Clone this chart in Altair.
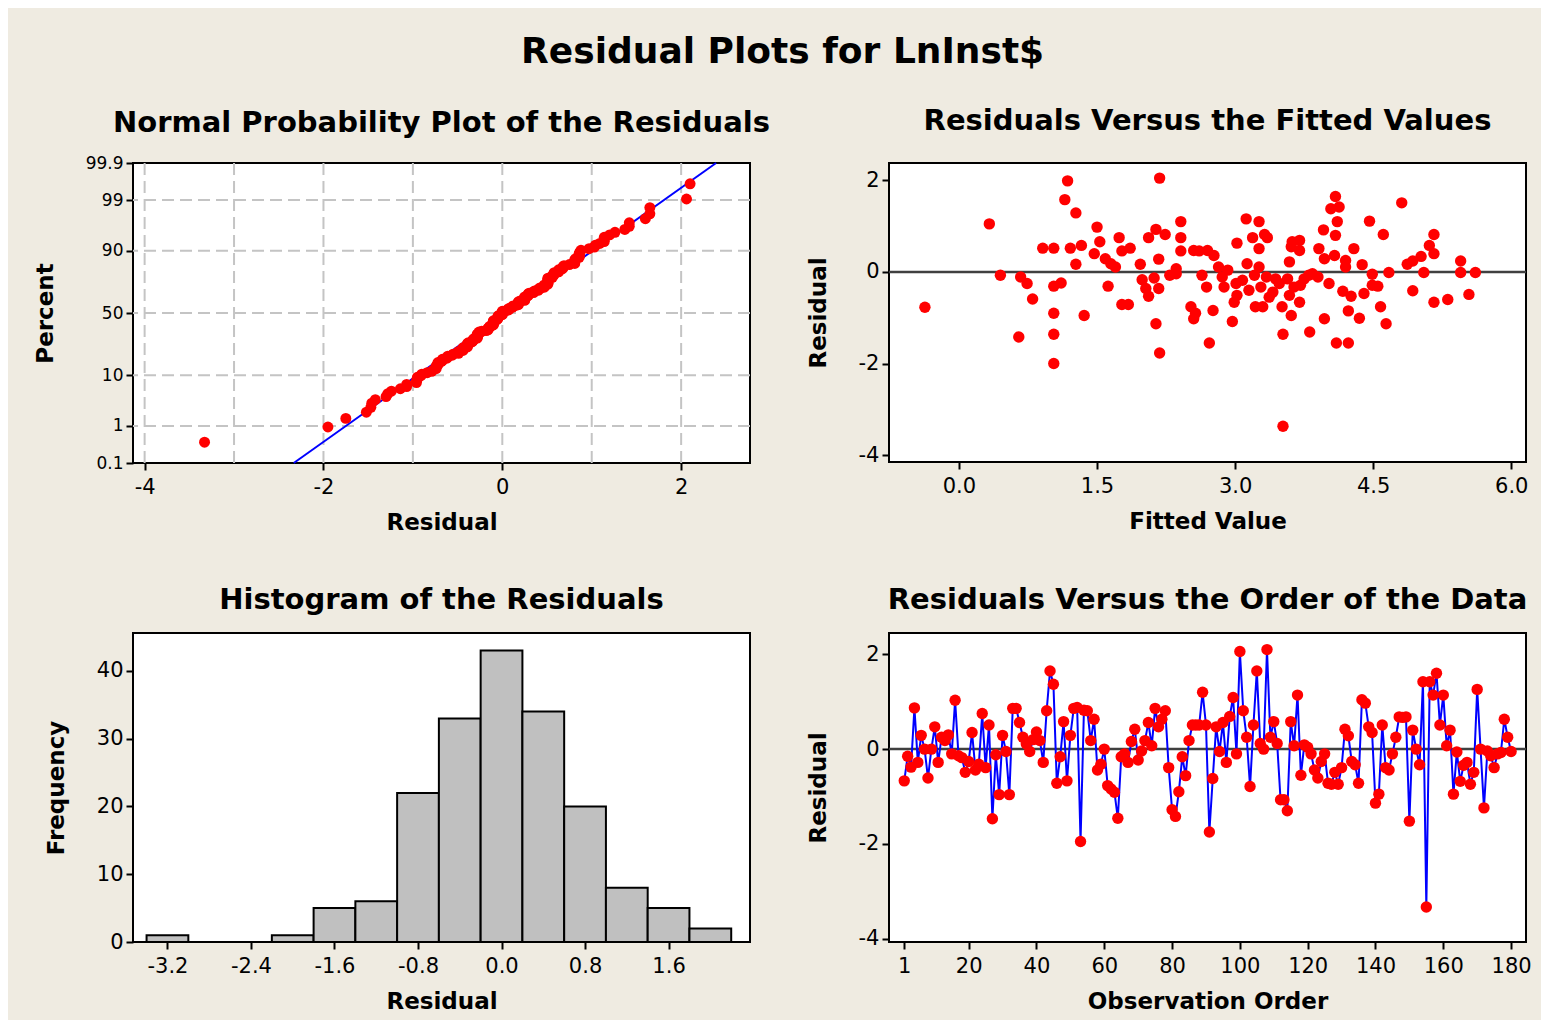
import altair as alt
import pandas as pd
from statistics import NormalDist, mean, stdev

FONT = "DejaVu Sans"
BG = "#EFEBE1"

# ---- data -------------------------------------------------------------------
residuals = [
    -0.67, -0.15, -0.38, 0.87, -0.28, 0.29, 0.00, -0.61, 0.00, 0.47,
    -0.28, 0.25, 0.18, 0.30, -0.10, 1.03, -0.14, -0.18, -0.49, -0.26,
    0.35, -0.44, -0.32, 0.75, -0.39, 0.51, -1.47, -0.12, -0.96, 0.29,
    -0.05, -0.96, 0.86, 0.86, 0.56, 0.25, 0.11, -0.05, 0.20, 0.36,
    0.18, -0.28, 0.81, 1.65, 1.37, -0.72, -0.16, 0.58, -0.67, 0.29,
    0.86, 0.88, -1.95, 0.82, 0.81, 0.18, 0.63, -0.44, -0.32, 0.00,
    -0.77, -0.84, -0.91, -1.46, -0.16, -0.10, -0.28, 0.16, 0.42, -0.23,
    -0.04, 0.18, 0.56, 0.07, 0.86, 0.47, 0.63, 0.81, -0.39, -1.28,
    -1.42, -0.90, -0.16, -0.56, 0.18, 0.51, 0.51, 0.51, 1.20, 0.51,
    -1.75, -0.62, 0.47, -0.05, 0.56, -0.28, 0.69, 1.09, -0.10, 2.06,
    0.81, 0.25, -0.79, 0.51, 1.65, 0.12, 0.00, 2.10, 0.25, 0.58,
    0.12, -1.07, -1.07, -1.30, 0.58, 0.07, 1.14, -0.55, 0.09, 0.04,
    -0.10, -0.44, -0.61, -0.26, -0.10, -0.72, -0.74, -0.49, -0.74, -0.39,
    0.42, 0.28, -0.26, -0.33, -0.72, 1.04, 0.97, 0.47, 0.35, -1.14,
    -0.95, 0.51, -0.39, -0.44, -0.10, 0.25, 0.68, 0.67, 0.68, -1.52,
    0.40, 0.00, -0.33, 1.42, -3.33, 1.42, 1.14, 1.60, 0.51, 1.14,
    0.07, 0.40, -0.95, -0.06, -0.68, -0.34, -0.28, -0.74, -0.49, 1.26,
    0.00, -1.24, -0.04, -0.14, -0.39, -0.10, -0.07, 0.63, 0.25, -0.05,
]

fitted_value = [
    -0.37, 0.33, 0.45, 0.67, 0.74, 0.80, 0.65, 0.91,
    1.03, 1.03, 1.11, 1.03, 1.03, 1.03, 1.18, 1.15, 1.27, 1.21, 1.33, 1.27,
    1.36, 1.50, 1.53, 1.47, 1.59, 1.65, 1.70, 1.62, 1.74, 1.77, 1.86, 1.77,
    1.84, 1.97, 1.99, 2.03, 2.06, 2.12, 2.17, 2.06, 2.14, 2.24, 2.17, 2.18,
    2.14, 2.18, 2.29, 2.36, 2.36, 2.41, 2.41, 2.41, 2.55, 2.61, 2.52, 2.57,
    2.55, 2.64, 2.69,
    2.70, 2.72, 2.76, 2.77, 2.82, 2.86, 2.88, 2.92, 2.97, 2.99, 3.01, 3.02,
    3.02, 3.08, 3.12, 3.13, 3.19, 3.15, 3.21, 3.22, 3.26, 3.26, 3.26, 3.28,
    3.30, 3.32, 3.34, 3.35, 3.37, 3.41, 3.44, 3.48, 3.51, 3.52, 3.52, 3.57,
    3.59, 3.59, 3.61, 3.61, 3.62, 3.64, 3.70, 3.70, 3.70, 3.71, 3.75, 3.80,
    3.81, 3.84, 3.90, 3.91, 3.97, 3.97, 3.96, 4.02, 4.04, 4.09, 4.13, 4.11,
    4.09, 4.08, 4.10, 4.23, 4.17, 4.20, 4.20, 4.23, 4.26, 4.29,
    4.35, 4.38, 4.40,
    4.81, 4.46, 4.61, 4.49, 4.49, 4.55, 4.58, 4.64, 4.67, 4.87, 4.93, 5.02,
    5.05, 4.93, 5.11, 5.16, 5.16, 5.16, 5.31, 5.45, 5.45, 5.61, 5.54,
]
fitted_resid = [
    -0.77, 1.05, -0.07, -0.11, -0.25, -0.59, -1.42, 0.52,
    0.52, -0.31, -0.24, -0.90, -1.36, -2.00, 1.99, 1.58, 1.29, 0.52, 0.58, 0.17,
    -0.95, 0.98, 0.66, 0.40, 0.29, 0.18, 0.11, -0.31, 0.75, 0.46, 0.52, -0.71,
    -0.71, 0.17, -0.17, -0.36, -0.53, -0.13, -0.36, 0.75, 0.93, 0.82, 0.28, 2.05,
    -1.13, -1.77, -0.07, -0.04, 0.07, 1.10, 0.75, 0.46, 0.47, 0.46, -0.76, -0.90,
    -1.02, -0.07, -0.33,
    0.47, -1.55, -0.84, 0.36, 0.11, -0.11, -0.33, 0.04, -1.08, -0.66, -0.25, 0.63,
    -0.51, -0.18, 1.16, 0.18, 0.75, -0.40, -0.07, -0.76, 1.10, 0.51, 0.11, -0.33,
    -0.76, 0.82, -0.11, 0.75, -0.55, -0.44, -0.15, -0.25, -0.76, -1.36, -3.37, -0.15,
    -0.51, 0.22, -0.95, 0.55, 0.66, -0.33, 0.69, 0.47, -0.66, -0.29, -0.15, -0.07,
    -1.31, -0.04, -0.11, 0.51, -1.02, 0.29, 0.92, -0.25, 1.38, 1.65, 1.42, 1.10,
    0.80, 0.36, -1.55, -1.55, -0.42, 0.25, 0.11, -0.85, -0.53, 0.51,
    -1.01, 0.16, -0.47,
    1.51, 1.11, 0.82, -0.05, -0.29, -0.31, -0.76, -1.13, -0.01, 0.17, 0.24, 0.34,
    -0.01, -0.41, 0.58, 0.82, 0.40, -0.66, -0.60, 0.24, -0.01, -0.01, -0.49,
]

hist_center = [-3.2, -2.8, -2.4, -2.0, -1.6, -1.2, -0.8, -0.4, 0.0, 0.4, 0.8, 1.2, 1.6, 2.0]
hist_count = [1, 0, 0, 1, 5, 6, 22, 33, 43, 34, 20, 8, 5, 2]

pct_ticks = [0.1, 1, 10, 50, 90, 99, 99.9]
pct_text = ["0.1", "1", "10", "50", "90", "99", "99.9"]
pct_grid = [1, 10, 50, 90, 99]
npp_x_grid = [-4, -3, -2, -1, 0, 1, 2]
npp_x_ticks = [-4, -2, 0, 2]
fit_x_ticks = [0.0, 1.5, 3.0, 4.5, 6.0]
resid_ticks = [-4, -2, 0, 2]
hist_x_ticks = [-3.2, -2.4, -1.6, -0.8, 0.0, 0.8, 1.6]
hist_y_ticks = [0, 10, 20, 30, 40]
order_ticks = [1, 20, 40, 60, 80, 100, 120, 140, 160, 180]

# ---- derived tables ---------------------------------------------------------
nd = NormalDist()
n = len(residuals)
npp_df = pd.DataFrame({
    "resid": sorted(residuals),
    "z": [nd.inv_cdf((i + 0.7) / (n + 0.4)) for i in range(n)],
})
z_lo, z_hi = nd.inv_cdf(0.001), nd.inv_cdf(0.999)
mu, sd = mean(residuals), stdev(residuals)
fitline_df = pd.DataFrame({"resid": [mu + sd * z_lo, mu + sd * z_hi], "z": [z_lo, z_hi]})
pct_z = [round(nd.inv_cdf(p / 100.0), 6) for p in pct_ticks]
gridx_df = pd.DataFrame({"gx": npp_x_grid})
gridy_df = pd.DataFrame({"gz": [nd.inv_cdf(p / 100.0) for p in pct_grid]})

fit_df = pd.DataFrame({"fitted": fitted_value, "resid": fitted_resid})
hist_df = pd.DataFrame({
    "lo": [c - 0.2 for c in hist_center],
    "hi": [c + 0.2 for c in hist_center],
    "count": hist_count,
})
order_df = pd.DataFrame({"obs": list(range(1, n + 1)), "resid": residuals})
zero_df = pd.DataFrame({"y0": [0]})

MINUS = "replace(datum.label, '\u2212', '-')"
pct_expr = " : ".join(
    f"abs(datum.value - ({z})) < 0.001 ? '{t}'" for z, t in zip(pct_z, pct_text)
) + " : ''"


def ax(title, values, label_size=21, fmt=None, expr=MINUS, title_pad=14, label_pad=6):
    kw = dict(
        title=title, values=values,
        labelFont=FONT, labelFontSize=label_size, labelColor="black",
        titleFont=FONT, titleFontSize=23, titleFontWeight="bold", titleColor="black",
        tickColor="black", tickSize=7, tickWidth=2, domain=False, grid=False,
        labelPadding=label_pad, titlePadding=title_pad,
        labelFlush=False, labelOverlap=False,
    )
    if fmt:
        kw["format"] = fmt
    if expr:
        kw["labelExpr"] = expr
    return alt.Axis(**kw)


def sub_title(text, offset):
    return alt.TitleParams(text=text, font=FONT, fontSize=29, fontWeight="bold",
                           color="black", anchor="middle", offset=offset, frame="group")


RED = "#FF0000"
BLUE = "#0000FF"

# ---- top-left: normal probability plot --------------------------------------
tl_xscale = alt.Scale(domain=[-4.13, 2.77], nice=False, zero=False)
tl_yscale = alt.Scale(domain=[z_lo, z_hi], nice=False, zero=False)
tl_xaxis = ax("Residual", npp_x_ticks)
tl_yaxis = ax("Percent", pct_z, label_size=17, expr=pct_expr, title_pad=28, label_pad=3)
tl_x = alt.X("resid:Q", scale=tl_xscale, axis=tl_xaxis)
tl_y = alt.Y("z:Q", scale=tl_yscale, axis=tl_yaxis)

tl_gridx = alt.Chart(gridx_df).mark_rule(color="#C4C4C4", strokeWidth=2, strokeDash=[12, 6]).encode(
    x=alt.X("gx:Q", scale=tl_xscale, axis=tl_xaxis))
tl_gridy = alt.Chart(gridy_df).mark_rule(color="#C4C4C4", strokeWidth=2, strokeDash=[12, 6]).encode(
    y=alt.Y("gz:Q", scale=tl_yscale, axis=tl_yaxis))
tl_line = alt.Chart(fitline_df).mark_line(color=BLUE, strokeWidth=2).encode(x=tl_x, y=tl_y)
tl_pts = alt.Chart(npp_df).mark_circle(color=RED, size=120, opacity=1).encode(x=tl_x, y=tl_y)

tl = alt.layer(tl_gridx, tl_gridy, tl_line, tl_pts).properties(
    width=617, height=300, title=sub_title("Normal Probability Plot of the Residuals", 16))

# ---- top-right: residuals vs fitted -----------------------------------------
tr_x = alt.X("fitted:Q", scale=alt.Scale(domain=[-0.76, 6.16], nice=False, zero=False),
             axis=ax("Fitted Value", fit_x_ticks, fmt=".1f"))
tr_yscale = alt.Scale(domain=[-4.15, 2.38], nice=False, zero=False)
tr_yaxis = ax("Residual", resid_ticks, title_pad=28, label_pad=3)
tr_zero = alt.Chart(zero_df).mark_rule(color="#404040", strokeWidth=2.5).encode(
    y=alt.Y("y0:Q", scale=tr_yscale, axis=tr_yaxis))
tr_pts = alt.Chart(fit_df).mark_circle(color=RED, size=130, opacity=1).encode(
    x=tr_x, y=alt.Y("resid:Q", scale=tr_yscale, axis=tr_yaxis))
tr = alt.layer(tr_zero, tr_pts).properties(
    width=637, height=299, title=sub_title("Residuals Versus the Fitted Values", 27))

# ---- bottom-left: histogram -------------------------------------------------
bl = alt.Chart(hist_df).mark_rect(color="#C0C0C0", stroke="black", strokeWidth=2).encode(
    x=alt.X("lo:Q", scale=alt.Scale(domain=[-3.53, 2.38], nice=False, zero=False),
            axis=ax("Residual", hist_x_ticks, fmt=".1f")),
    x2="hi:Q",
    y=alt.Y("count:Q", scale=alt.Scale(domain=[0, 45.6], nice=False),
            axis=ax("Frequency", hist_y_ticks, title_pad=28, label_pad=3)),
    y2=alt.datum(0),
).properties(width=617, height=309, title=sub_title("Histogram of the Residuals", 18))

# ---- bottom-right: residuals vs order ---------------------------------------
br_x = alt.X("obs:Q", scale=alt.Scale(domain=[-3.5, 184.4], nice=False, zero=False),
             axis=ax("Observation Order", order_ticks))
br_yscale = alt.Scale(domain=[-4.07, 2.45], nice=False, zero=False)
br_yaxis = ax("Residual", resid_ticks, title_pad=28, label_pad=3)
br_zero = alt.Chart(zero_df).mark_rule(color="#404040", strokeWidth=2.5).encode(
    y=alt.Y("y0:Q", scale=br_yscale, axis=br_yaxis))
br_line = alt.Chart(order_df).mark_line(color=BLUE, strokeWidth=2).encode(
    x=br_x, y=alt.Y("resid:Q", scale=br_yscale, axis=br_yaxis))
br_pts = alt.Chart(order_df).mark_circle(color=RED, size=130, opacity=1).encode(
    x=br_x, y=alt.Y("resid:Q", scale=br_yscale, axis=br_yaxis))
br = alt.layer(br_zero, br_line, br_pts).properties(
    width=637, height=309, title=sub_title("Residuals Versus the Order of the Data", 18))

chart = alt.concat(
    tl, tr, bl, br, columns=2, spacing={"row": 50, "column": 35}, align="each"
).properties(
    title=alt.TitleParams(text="Residual Plots for LnInst$", font=FONT, fontSize=36,
                          fontWeight="bold", color="black", anchor="middle", offset=35),
    padding={"left": 25, "top": 26, "right": 8, "bottom": 6},
).configure(background=BG, font=FONT).configure_view(
    stroke="black", strokeWidth=2, fill="white"
)

chart.save("out.html", embed_options={"renderer": "svg", "actions": False})
